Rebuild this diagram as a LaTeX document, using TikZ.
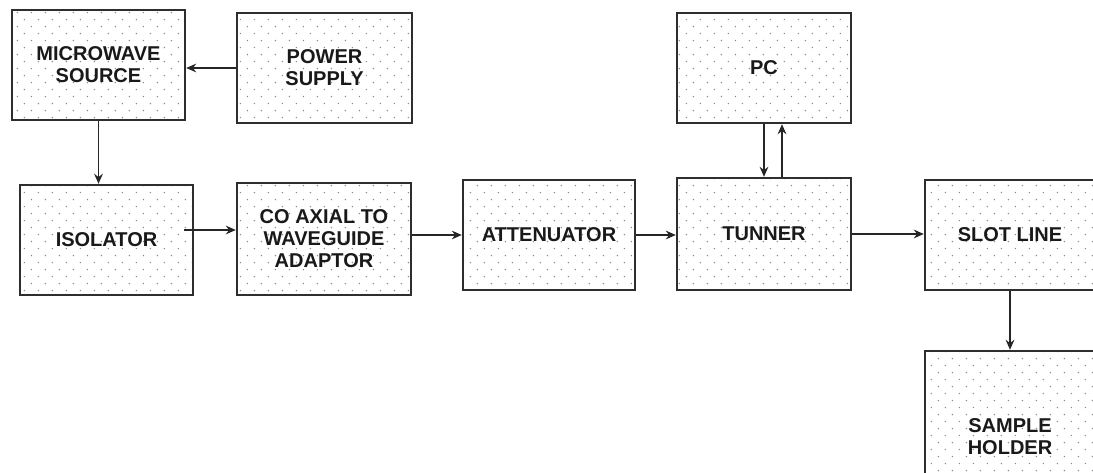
\documentclass[tikz,border=0pt]{standalone}
\usepackage{fontspec}
\setmainfont{Liberation Sans}
\usetikzlibrary{arrows.meta,patterns,calc}
\pgfdeclarepatternformonly{sdots}{\pgfpointorigin}{\pgfpoint{10.8pt}{10.8pt}}{\pgfpoint{10.8pt}{10.8pt}}{%
  \pgfpathcircle{\pgfpoint{2.7pt}{2.7pt}}{0.6pt}%
  \pgfpathcircle{\pgfpoint{8.1pt}{8.1pt}}{0.6pt}%
  \pgfusepath{fill}}
\definecolor{edge}{HTML}{2E2E2E}
\definecolor{dotc}{HTML}{8C8C8C}
\begin{document}
\begin{tikzpicture}[x=0.75pt,y=-0.75pt,
  box/.style={draw=edge, line width=1.8pt, preaction={fill=white}, pattern=sdots, pattern color=dotc,
    inner sep=0pt, align=center, font=\fontsize{15pt}{16.5pt}\selectfont\bfseries, text=black!90},
  arr/.style={draw=black!85, line width=1.3pt, -{Stealth[length=7.5pt,width=6.5pt]}}]
\useasboundingbox (0,0) rectangle (1093,473);
\clip (0,0) rectangle (1093,473);
\node[box, minimum width={173*0.75pt}, minimum height={110*0.75pt}] (ms) at (98.5,65) {MICROWAVE\\SOURCE};
\node[box, minimum width={175*0.75pt}, minimum height={110*0.75pt}] (ps) at (324.5,68) {POWER\\SUPPLY};
\node[box, minimum width={173*0.75pt}, minimum height={110*0.75pt}] (iso) at (106.5,240) {ISOLATOR};
\node[box, minimum width={174*0.75pt}, minimum height={112*0.75pt}] (coax) at (324,239) {CO AXIAL TO\\WAVEGUIDE\\ADAPTOR};
\node[box, minimum width={172*0.75pt}, minimum height={110*0.75pt}] (att) at (549,235) {ATTENUATOR};
\node[box, minimum width={174*0.75pt}, minimum height={112*0.75pt}] (tun) at (764,234) {TUNNER};
\node[box, minimum width={174*0.75pt}, minimum height={110*0.75pt}] (pc) at (764,68) {PC};
\node[box, minimum width={170*0.75pt}, minimum height={110*0.75pt}] (slot) at (1010,235) {SLOT LINE};
\node[box, minimum width={170*0.75pt}, minimum height={172*0.75pt}] (samp) at (1010,437) {SAMPLE\\HOLDER};
\draw[arr] (ps.west) -- (ps.west -| ms.east);
\draw[arr] (ms.south) -- (ms.south |- iso.north);
\draw[arr] ([shift={(-10,-10)}]iso.east) coordinate (a1) -- (a1 -| coax.west);
\draw[arr] (att.west -| coax.east) -- (att.west);
\draw[arr] (att.east) -- (att.east -| tun.west);
\draw[arr] (tun.east) -- (tun.east -| slot.west);
\draw[arr] (pc.south) -- (pc.south |- tun.north);
\draw[arr] ([shift={(18,0)}]tun.north) -- ([shift={(18,0)}]pc.south);
\draw[arr] (slot.south) -- (samp.north);
\end{tikzpicture}
\end{document}
